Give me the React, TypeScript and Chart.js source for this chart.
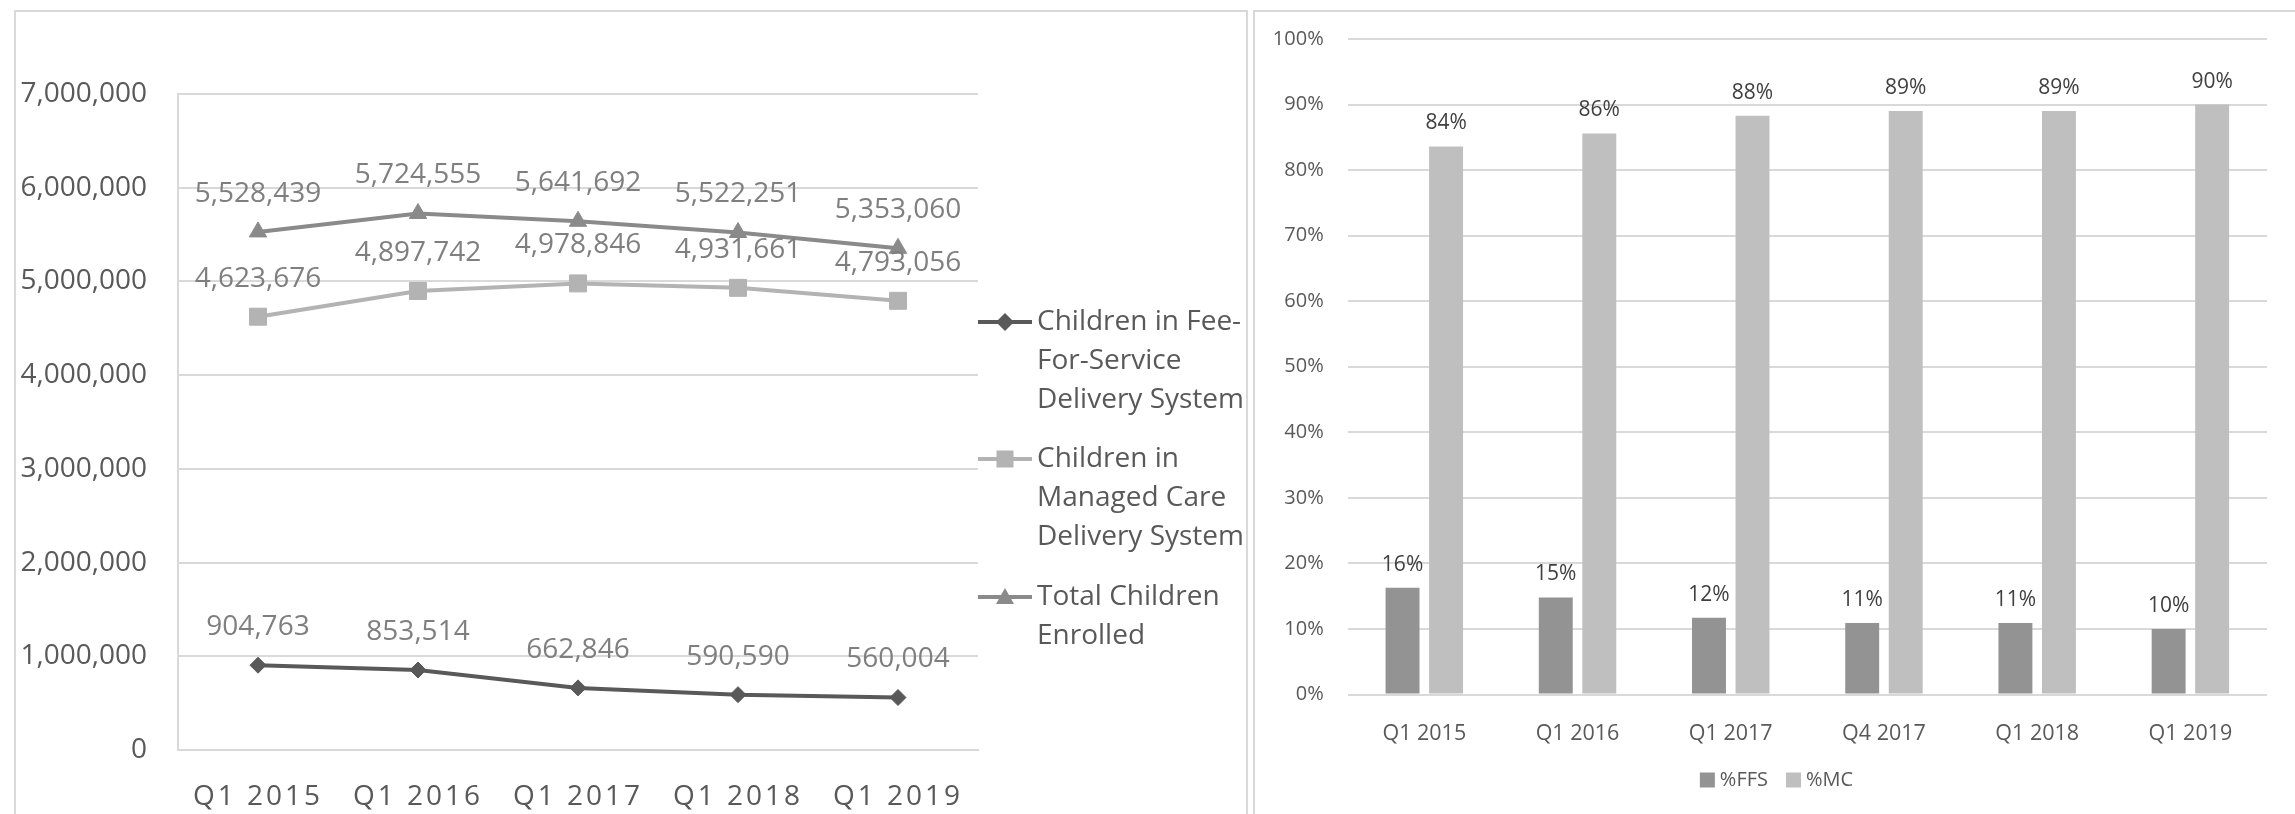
import React, { useEffect, useRef } from 'react';
import { Chart, registerables } from 'chart.js';

Chart.register(...registerables);

// ---------- data: left line chart ----------
const lineCategories = ['Q1 2015', 'Q1 2016', 'Q1 2017', 'Q1 2018', 'Q1 2019'];
const ffsCounts = [904763, 853514, 662846, 590590, 560004];
const mcCounts = [4623676, 4897742, 4978846, 4931661, 4793056];
const totalCounts = [5528439, 5724555, 5641692, 5522251, 5353060];
const lineSeriesNames = [
  'Children in Fee-For-Service Delivery System',
  'Children in Managed Care Delivery System',
  'Total Children Enrolled',
];
const lineLegendLines = [
  ['Children in Fee-', 'For-Service', 'Delivery System'],
  ['Children in', 'Managed Care', 'Delivery System'],
  ['Total Children', 'Enrolled'],
];
const countAxisMax = 7000000;
const countAxisStep = 1000000;

// ---------- data: right bar chart ----------
const barCategories = ['Q1 2015', 'Q1 2016', 'Q1 2017', 'Q4 2017', 'Q1 2018', 'Q1 2019'];
const ffsPct = [16.3, 14.8, 11.7, 10.9, 10.9, 10.0];
const mcPct = [83.6, 85.6, 88.3, 89.0, 89.0, 90.0];
const barSeriesNames = ['%FFS', '%MC'];
const pctAxisMax = 100;
const pctAxisStep = 10;

// ---------- styles ----------
const FONT = "'Open Sans', sans-serif";
const GRID = '#d9d9d9';
const TICK = '#595959';
const lineColors = ['#595959', '#b3b3b3', '#8a8a8a'];
const pointStyles = ['rectRot', 'rect', 'triangle'];
const pointRadii = [8, 12, 10];
const barColors = ['#939393', '#bfbfbf'];

const fmt = (v: number) => v.toLocaleString('en-US');

function LineChartCanvas() {
  const ref = useRef<HTMLCanvasElement>(null);
  useEffect(() => {
    const lineLabelsPlugin = {
      id: 'lineLabels',
      afterDatasetsDraw(chart: any) {
        const ctx = chart.ctx;
        ctx.save();
        ctx.font = `28px ${FONT}`;
        ctx.fillStyle = '#7f7f7f';
        ctx.textAlign = 'center';
        ctx.textBaseline = 'middle';
        chart.data.datasets.forEach((ds: any, di: number) => {
          const meta = chart.getDatasetMeta(di);
          meta.data.forEach((el: any, i: number) => {
            ctx.fillText(fmt(ds.data[i]), el.x, el.y - 38);
          });
        });
        ctx.restore();
      },
    };
    const lineLegendPlugin = {
      id: 'lineLegend',
      afterDraw(chart: any) {
        const ctx = chart.ctx;
        const area = chart.chartArea;
        const x0 = area.right;
        const x1 = x0 + 54;
        const mx = x0 + 27;
        const tx = x0 + 59;
        const ys = [322, 459, 597];
        ctx.save();
        chart.data.datasets.forEach((ds: any, di: number) => {
          const y = ys[di];
          const c = lineColors[di];
          ctx.strokeStyle = c;
          ctx.fillStyle = c;
          ctx.lineWidth = 4;
          ctx.beginPath();
          ctx.moveTo(x0, y);
          ctx.lineTo(x1, y);
          ctx.stroke();
          ctx.beginPath();
          if (pointStyles[di] === 'rectRot') {
            ctx.moveTo(mx - 9, y); ctx.lineTo(mx, y - 9); ctx.lineTo(mx + 9, y); ctx.lineTo(mx, y + 9);
          } else if (pointStyles[di] === 'rect') {
            ctx.rect(mx - 8.5, y - 8.5, 17, 17);
          } else {
            ctx.moveTo(mx, y - 9); ctx.lineTo(mx + 9, y + 7); ctx.lineTo(mx - 9, y + 7);
          }
          ctx.closePath();
          ctx.fill();
          ctx.font = `28px ${FONT}`;
          ctx.fillStyle = TICK;
          ctx.textAlign = 'left';
          ctx.textBaseline = 'middle';
          lineLegendLines[di].forEach((t, li) => ctx.fillText(t, tx, y + li * 39));
        });
        ctx.restore();
      },
    };

    const chart = new Chart(ref.current!, {
      type: 'line',
      data: {
        labels: lineCategories,
        datasets: [ffsCounts, mcCounts, totalCounts].map((d, i) => ({
          label: lineSeriesNames[i],
          data: d,
          borderColor: lineColors[i],
          backgroundColor: lineColors[i],
          borderWidth: 4,
          pointStyle: pointStyles[i] as any,
          pointRadius: pointRadii[i],
          pointBorderWidth: 1,
          pointBorderColor: lineColors[i],
          pointBackgroundColor: lineColors[i],
          tension: 0,
        })),
      },
      options: {
        animation: false,
        responsive: false,
        layout: { padding: { top: 94, right: 272, left: 0, bottom: 0 } },
        plugins: { legend: { display: false }, tooltip: { enabled: false } },
        scales: {
          x: {
            type: 'category',
            offset: true,
            grid: { display: false },
            border: { display: true, color: GRID, width: 2 },
            ticks: { font: { family: FONT, size: 28 }, color: TICK, padding: 22, maxRotation: 0, autoSkip: false },
            afterFit: (s: any) => { s.height = 64; },
          },
          y: {
            min: 0,
            max: countAxisMax,
            grid: { color: GRID, lineWidth: 2, drawTicks: false },
            border: { display: true, color: GRID, width: 2 },
            ticks: {
              stepSize: countAxisStep,
              font: { family: FONT, size: 28 },
              color: TICK,
              padding: 31,
              callback: (v: any) => fmt(Number(v)),
            },
            afterFit: (s: any) => { s.width = 178; },
          },
        },
      },
      plugins: [lineLabelsPlugin, lineLegendPlugin],
    });

    const xs: any = chart.scales.x;
    const orig = xs.drawLabels.bind(xs);
    xs.drawLabels = (area: any) => {
      const c: any = xs.ctx;
      c.save();
      c.letterSpacing = '3px';
      orig(area);
      c.restore();
    };
    chart.draw();

    return () => chart.destroy();
  }, []);
  return (
    <canvas
      ref={ref}
      width={1250}
      height={814}
      style={{ position: 'absolute', left: 0, top: 0, width: 1250, height: 814 }}
    />
  );
}

function BarChartCanvas() {
  const ref = useRef<HTMLCanvasElement>(null);
  useEffect(() => {
    const barLabelsPlugin = {
      id: 'barLabels',
      afterDatasetsDraw(chart: any) {
        const ctx = chart.ctx;
        ctx.save();
        ctx.font = `21px ${FONT}`;
        ctx.fillStyle = '#404040';
        ctx.textAlign = 'center';
        ctx.textBaseline = 'middle';
        chart.data.datasets.forEach((ds: any, di: number) => {
          const meta = chart.getDatasetMeta(di);
          meta.data.forEach((el: any, i: number) => {
            ctx.fillText(Math.round(ds.data[i]) + '%', el.x, el.y - 23);
          });
        });
        ctx.restore();
      },
    };
    const barLegendPlugin = {
      id: 'barLegend',
      afterDraw(chart: any) {
        const ctx = chart.ctx;
        ctx.save();
        ctx.font = `20px ${FONT}`;
        ctx.textBaseline = 'middle';
        ctx.textAlign = 'left';
        const widths = barSeriesNames.map((n) => ctx.measureText(n).width);
        const total = 15 + 5 + widths[0] + 18 + 15 + 5 + widths[1];
        let x = chart.width / 2 + 4 - total / 2;
        const y = 780;
        barSeriesNames.forEach((n, i) => {
          ctx.fillStyle = barColors[i];
          ctx.fillRect(x, y - 7.5, 15, 15);
          ctx.fillStyle = TICK;
          ctx.fillText(n, x + 20, y);
          x += 20 + widths[i] + 18;
        });
        ctx.restore();
      },
    };

    const chart = new Chart(ref.current!, {
      type: 'bar',
      data: {
        labels: barCategories,
        datasets: [ffsPct, mcPct].map((d, i) => ({
          label: barSeriesNames[i],
          data: d,
          backgroundColor: barColors[i],
          borderWidth: 0,
          categoryPercentage: 0.568,
          barPercentage: 0.78,
        })),
      },
      options: {
        animation: false,
        responsive: false,
        layout: { padding: { top: 39, right: 28, left: 0, bottom: 0 } },
        plugins: { legend: { display: false }, tooltip: { enabled: false } },
        scales: {
          x: {
            grid: { display: false },
            border: { display: false },
            ticks: { font: { family: FONT, size: 21.5 }, color: TICK, padding: 18, maxRotation: 0, autoSkip: false },
            afterFit: (s: any) => { s.height = 119.5; },
          },
          y: {
            min: 0,
            max: pctAxisMax,
            grid: { color: GRID, lineWidth: 2, drawTicks: false },
            border: { display: false },
            ticks: {
              stepSize: pctAxisStep,
              font: { family: FONT, size: 20 },
              color: TICK,
              padding: 24,
              callback: (v: any) => Math.round(Number(v)) + '%',
            },
            afterFit: (s: any) => { s.width = 97.7; },
          },
        },
      },
      plugins: [barLabelsPlugin, barLegendPlugin],
    });
    return () => chart.destroy();
  }, []);
  return (
    <canvas
      ref={ref}
      width={1045}
      height={814}
      style={{ position: 'absolute', left: 1250, top: 0, width: 1045, height: 814 }}
    />
  );
}

export default function App() {
  return (
    <div
      style={{
        position: 'fixed',
        left: 0,
        top: 0,
        width: 2295,
        height: 814,
        overflow: 'hidden',
        background: '#ffffff',
      }}
    >
      <div
        style={{
          position: 'absolute',
          left: 14,
          top: 10,
          width: 1230,
          height: 900,
          border: `2px solid ${GRID}`,
        }}
      />
      <div
        style={{
          position: 'absolute',
          left: 1253,
          top: 10,
          width: 1200,
          height: 900,
          border: `2px solid ${GRID}`,
        }}
      />
      <LineChartCanvas />
      <BarChartCanvas />
    </div>
  );
}
